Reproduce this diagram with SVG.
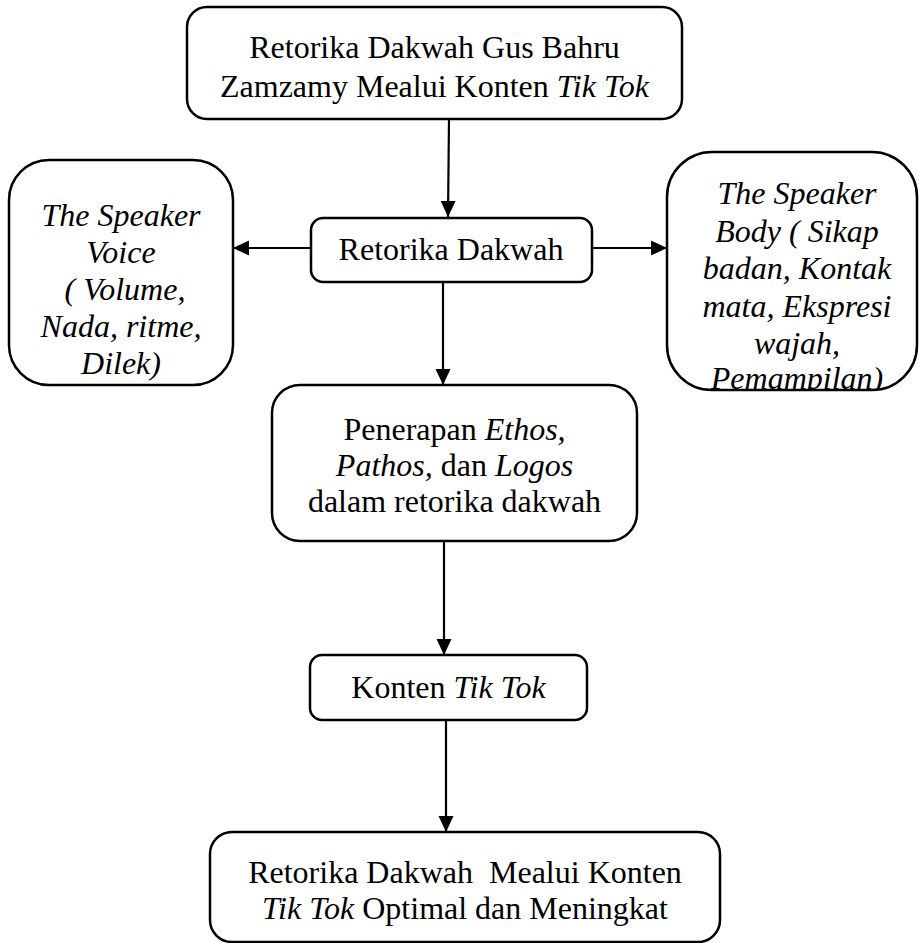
<svg xmlns="http://www.w3.org/2000/svg" width="920" height="943" viewBox="0 0 920 943">
<style>
.box{fill:#fff;stroke:#000;stroke-width:2.5}
.t{font-size:32px;fill:#000;text-anchor:middle}
.i{font-style:italic}
.c{fill:none;stroke:#000;stroke-width:2.2}
</style>
<defs>
<marker id="ah" markerUnits="userSpaceOnUse" markerWidth="16" markerHeight="16" viewBox="0 0 16 16" refX="16" refY="8" orient="auto">
<path d="M0,0.5 L16,8 L0,15.5 Z" fill="#000"/>
</marker>
<clipPath id="rc"><rect x="660" y="150" width="260" height="239"/></clipPath>
</defs>
<g id="connectors">
<path class="c" d="M449,119 L448,217" marker-end="url(#ah)"/>
<path class="c" d="M311,248 L233,248" marker-end="url(#ah)"/>
<path class="c" d="M592,248 L667,248" marker-end="url(#ah)"/>
<path class="c" d="M443,282 L443,385" marker-end="url(#ah)"/>
<path class="c" d="M444,541 L444,655" marker-end="url(#ah)"/>
<path class="c" d="M446,720 L446,832" marker-end="url(#ah)"/>
</g>
<g font-family="Liberation Serif, Tinos, DejaVu Serif, serif">
<g id="top">
<rect class="box" x="187" y="7" width="495" height="112" rx="20"/>
<text class="t" x="434.5" y="58">Retorika Dakwah Gus Bahru</text>
<text class="t" x="434.5" y="97">Zamzamy Mealui Konten <tspan class="i">Tik Tok</tspan></text>
</g>
<g id="retorika">
<rect class="box" x="311" y="218" width="281" height="64" rx="12"/>
<text class="t" x="451" y="260">Retorika Dakwah</text>
</g>
<g id="voice">
<rect class="box" x="9" y="160" width="224" height="225" rx="40"/>
<text class="t i" x="121" y="226">The Speaker</text>
<text class="t i" x="121" y="263">Voice</text>
<text class="t i" x="121" y="300" xml:space="preserve"> ( Volume,</text>
<text class="t i" x="121" y="337">Nada, ritme,</text>
<text class="t i" x="121" y="374">Dilek)</text>
</g>
<g id="body">
<rect class="box" x="667" y="152" width="250" height="238" rx="45"/>
<g clip-path="url(#rc)">
<text class="t i" x="797" y="204">The Speaker</text>
<text class="t i" x="797" y="242">Body ( Sikap</text>
<text class="t i" x="797" y="279">badan, Kontak</text>
<text class="t i" x="797" y="317">mata, Ekspresi</text>
<text class="t i" x="797" y="354">wajah,</text>
<text class="t i" x="797" y="389">Pemampilan)</text>
</g>
</g>
<g id="penerapan">
<rect class="box" x="272" y="385" width="365" height="156" rx="28"/>
<text class="t" x="454.5" y="440">Penerapan <tspan class="i">Ethos,</tspan></text>
<text class="t" x="454.5" y="476"><tspan class="i">Pathos,</tspan> dan <tspan class="i">Logos</tspan></text>
<text class="t" x="454.5" y="512">dalam retorika dakwah</text>
</g>
<g id="konten">
<rect class="box" x="310" y="655" width="277" height="65" rx="12"/>
<text class="t" x="448.5" y="698">Konten <tspan class="i">Tik Tok</tspan></text>
</g>
<g id="bottom">
<rect class="box" x="210" y="832" width="510" height="110" rx="22"/>
<text class="t" x="465" y="883" xml:space="preserve">Retorika Dakwah  Mealui Konten</text>
<text class="t" x="465" y="919"><tspan class="i">Tik Tok</tspan> Optimal dan Meningkat</text>
</g>
</g>
</svg>
